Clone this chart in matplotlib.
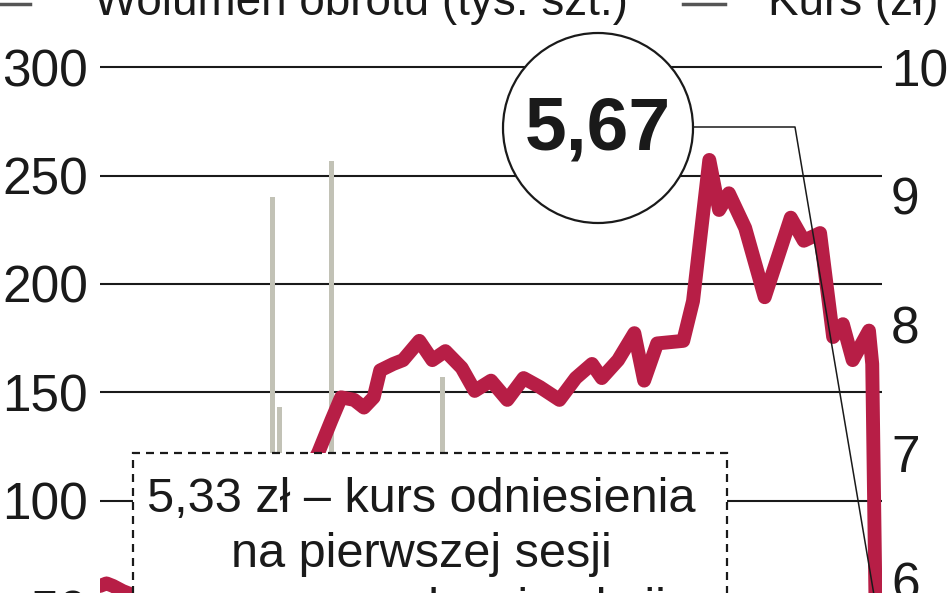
import matplotlib
matplotlib.use('Agg')
import matplotlib.pyplot as plt
from matplotlib.patches import Rectangle, Ellipse
from matplotlib.lines import Line2D

plt.rcParams['font.family'] = ['Liberation Sans', 'DejaVu Sans']

# volume (tys. szt.) - only the bars standing above the note box are readable
vol_sessions = [53, 55, 71, 105]
volumes = [240, 143, 257, 157]

# closing price (zł) by session number
sessions = [0, 2, 4, 7, 9, 12, 22, 31, 40, 49,
            58, 65, 67, 71, 74, 78, 81, 84, 86, 90,
            93, 98, 102, 106, 111, 115, 120, 125, 130, 135,
            141, 146, 151, 154, 159, 164, 167, 171, 179, 182,
            187, 190, 193, 198, 204, 212, 216, 221, 225, 228,
            231, 236, 237, 238, 239]
prices = [5.96, 5.98, 5.96, 5.92, 5.90, 5.85, 5.77, 5.85, 5.92, 6.16,
          6.63, 6.90, 7.00, 7.25, 7.43, 7.41, 7.35, 7.43, 7.64, 7.69,
          7.72, 7.87, 7.72, 7.79, 7.66, 7.48, 7.56, 7.41, 7.58, 7.51,
          7.41, 7.58, 7.69, 7.58, 7.72, 7.93, 7.56, 7.85, 7.87, 8.18,
          9.28, 8.89, 9.02, 8.75, 8.21, 8.83, 8.65, 8.71, 7.90, 8.00,
          7.72, 7.95, 7.69, 5.85, 5.67]

vol_ticks = [50, 100, 150, 200, 250, 300]
price_ticks = [6, 7, 8, 9, 10]
ref_price = 5.33

RED = '#b71e46'
GRAY = '#c2c2b6'
INK = '#1a1a1a'

W, H = 948, 593
fig = plt.figure(figsize=(W / 100, H / 100), dpi=100)


def fx(px):
    return px / W


def fy(py):
    return 1 - py / H


# axes reach past the top and bottom edge - the picture is a crop
ax = fig.add_axes([fx(100), fy(660), fx(782), 700 / H])
ax.set_xlim(0, 240)
ax.set_ylim(26.33, 349.65)
ax2 = ax.twinx()
ax2.set_ylim(5.383, 10.838)

for a in (ax, ax2):
    for s in a.spines.values():
        s.set_visible(False)
    a.set_xticks([])

# grid
ax.set_yticks(vol_ticks)
ax.yaxis.grid(True, color=INK, lw=1.5)
ax.set_axisbelow(True)
ax.tick_params(axis='y', length=0, pad=8.5, labelsize=37, labelcolor=INK)
ax2.set_yticks(price_ticks)
ax2.tick_params(axis='y', length=0, pad=6.5, labelsize=37, labelcolor=INK)

# volume bars
ax.bar(vol_sessions, volumes, width=1.5, color=GRAY, zorder=2)

# price line
ax2.plot(sessions, prices, color=RED, lw=10, solid_joinstyle='round',
         solid_capstyle='round', zorder=3)

# note box (white, dashed)
box = Rectangle((fx(133), fy(700)), fx(594), 247 / H, transform=fig.transFigure,
                facecolor='white', edgecolor=INK, lw=1.6,
                linestyle=(0, (3.6, 2.7)), zorder=5)
fig.add_artist(box)
note = [f'{ref_price:.2f}'.replace('.', ',') + ' zł – kurs odniesienia',
        'na pierwszej sesji',
        'po wprowadzeniu akcji']
for i, line in enumerate(note):
    fig.text(fx(421), fy(512 + 55 * i), line, ha='center', va='baseline',
             fontsize=35, color=INK, zorder=6)

# callout circle with the last price
cx, cy, r = 598, 128, 95
circ = Ellipse((fx(cx), fy(cy)), 2 * r / W, 2 * r / H, transform=fig.transFigure,
               facecolor='white', edgecolor=INK, lw=1.6, zorder=7)
fig.add_artist(circ)
fig.text(fx(cx), fy(cy + 2), f'{prices[-1]:.2f}'.replace('.', ','),
         ha='center', va='center', fontsize=54, fontweight='bold',
         color=INK, zorder=8)

end = fig.transFigure.inverted().transform(
    ax2.transData.transform((sessions[-1], prices[-1])))
fig.add_artist(Line2D([fx(cx + r), fx(795), end[0]], [fy(127), fy(127), end[1]],
                      transform=fig.transFigure, color=INK, lw=1.1, zorder=4))

# legend, cut by the top edge
fig.add_artist(Line2D([fx(0), fx(30)], [fy(4), fy(4)], transform=fig.transFigure,
                      color='#555555', lw=2.5))
fig.text(fx(94), fy(15), 'Wolumen obrotu (tys. szt.)', ha='left', va='baseline',
         fontsize=33, color=INK)
fig.add_artist(Line2D([fx(683), fx(725)], [fy(4), fy(4)], transform=fig.transFigure,
                      color='#555555', lw=2.5))
fig.text(fx(768), fy(15), 'Kurs (zł)', ha='left', va='baseline',
         fontsize=33, color=INK)

fig.savefig('out.png', dpi=100, facecolor='white')
